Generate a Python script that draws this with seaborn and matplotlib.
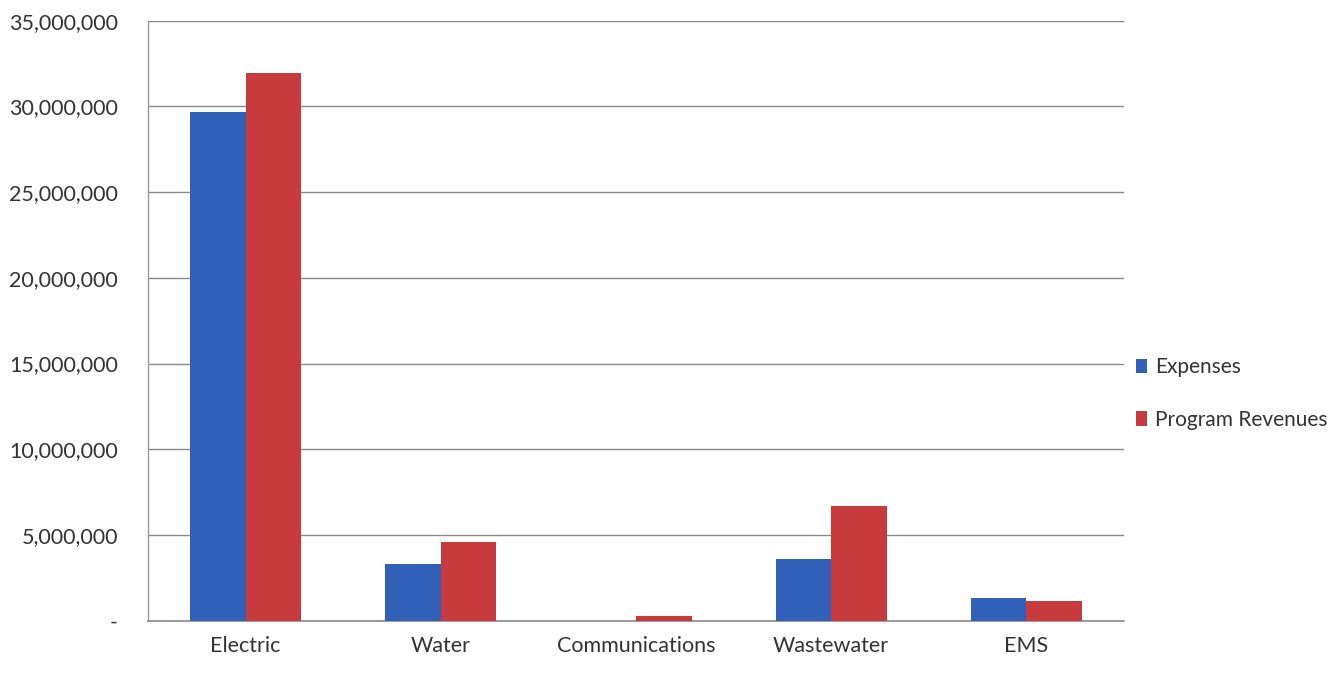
import matplotlib
matplotlib.use("Agg")
import matplotlib.pyplot as plt
import matplotlib.ticker as mticker
from matplotlib.patches import Patch
import pandas as pd
import seaborn as sns

# Expenses vs. program revenues by business-type activity
categories = ["Electric", "Water", "Communications", "Wastewater", "EMS"]
expenses = [29_650_000, 3_280_000, 0, 3_610_000, 1_300_000]
program_revenues = [31_970_000, 4_570_000, 270_000, 6_700_000, 1_160_000]
series_names = ["Expenses", "Program Revenues"]
y_ticks = [0, 5_000_000, 10_000_000, 15_000_000, 20_000_000,
           25_000_000, 30_000_000, 35_000_000]

df = pd.DataFrame({
    "Category": categories * 2,
    "Series": [series_names[0]] * len(categories) + [series_names[1]] * len(categories),
    "Amount": expenses + program_revenues,
})

sns.set_theme(style="white")
plt.rcParams["font.family"] = ["Lato", "DejaVu Sans"]

colors = {"Expenses": "#3060B8", "Program Revenues": "#C73A3E"}

fig = plt.figure(figsize=(13.38, 6.73), dpi=100)
ax = fig.add_axes([0.1106, 0.0777, 0.7294, 0.8915])

sns.barplot(data=df, x="Category", y="Amount", hue="Series", order=categories,
            hue_order=series_names, palette=colors, width=0.57, saturation=1,
            edgecolor="none", ax=ax, legend=False, zorder=3)

ax.set_xlim(-0.5, len(categories) - 0.5)
ax.set_ylim(0, 35_000_000)
ax.set_yticks(y_ticks)
ax.yaxis.set_major_formatter(mticker.FuncFormatter(
    lambda v, _: "-" if v == 0 else f"{int(v):,}"))
ax.grid(axis="y", color="#8a8a8a", linewidth=1.0, zorder=0)
ax.grid(axis="x", visible=False)

for side in ["top", "right"]:
    ax.spines[side].set_visible(False)
ax.spines["left"].set_color("#9a9a9a")
ax.spines["bottom"].set_color("#8a8a8a")
ax.spines["left"].set_linewidth(1.0)
ax.spines["bottom"].set_linewidth(1.2)

ax.set_xlabel("")
ax.set_ylabel("")
ax.tick_params(axis="y", labelsize=15.5, colors="#333333", length=0, pad=21.5)
ax.tick_params(axis="x", labelsize=15.5, colors="#333333", length=0, pad=11)

handles = [Patch(facecolor=colors[s], edgecolor="none", label=s) for s in series_names]
fig.legend(handles=handles, loc="center left", bbox_to_anchor=(0.835, 0.415),
           frameon=False, fontsize=15, handlelength=0.55, handleheight=0.7,
           handletextpad=0.35, labelspacing=1.56, labelcolor="#333333")

fig.savefig("out.png", dpi=100, facecolor="white")
